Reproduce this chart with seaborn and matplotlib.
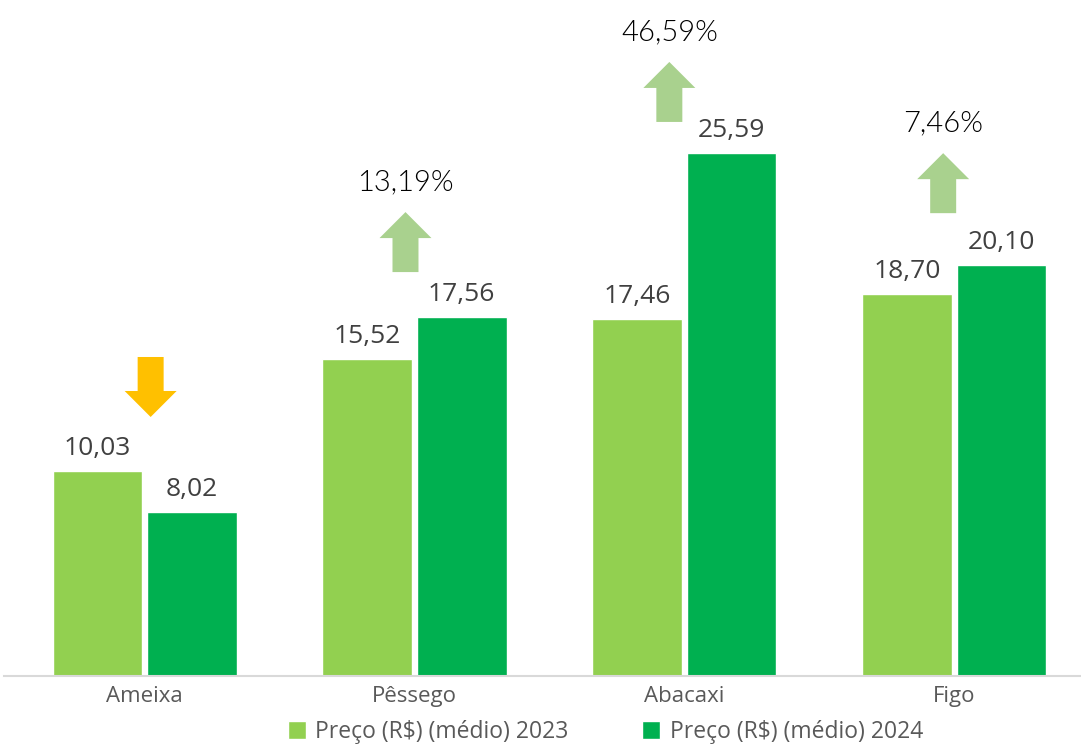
import matplotlib
matplotlib.use("Agg")
import matplotlib.pyplot as plt
from matplotlib.patches import Polygon, Patch
import seaborn as sns
import pandas as pd

# data
frutas = ["Ameixa", "Pêssego", "Abacaxi", "Figo"]
preco_2023 = [10.03, 15.52, 17.46, 18.70]
preco_2024 = [8.02, 17.56, 25.59, 20.10]
variacao = [None, "13,19%", "46,59%", "7,46%"]
series = ["Preço (R$) (médio) 2023", "Preço (R$) (médio) 2024"]

cores = ["#92D050", "#00B050"]
cor_sobe = "#A9D18E"
cor_desce = "#FFC000"

df = pd.DataFrame({
    "fruta": frutas * 2,
    "preco": preco_2023 + preco_2024,
    "serie": [series[0]] * 4 + [series[1]] * 4,
})

sns.set_theme(style="white")
plt.rcParams["font.family"] = ["Open Sans", "DejaVu Sans"]

fig = plt.figure(figsize=(10.81, 7.45), dpi=100)
ax = fig.add_axes([0.004, 69 / 745, 0.996, 676 / 745])

sns.barplot(data=df, x="fruta", y="preco", hue="serie", palette=cores,
            width=0.7, gap=0.05, saturation=1, legend=False, ax=ax)

ax.set_xlim(-0.52, 3.47)
ax.set_ylim(0, 676 / 20.44)

# value labels
for cont in ax.containers:
    for bar in cont:
        h = bar.get_height()
        ax.annotate(f"{h:.2f}".replace(".", ","),
                    (bar.get_x() + bar.get_width() / 2, h),
                    xytext=(0, 7), textcoords="offset points",
                    ha="center", va="bottom", fontsize=19, color="#404040")

# arrows (px -> data units: x 270 px/unit, y 20.44 px/unit)
px_x = 1 / 270
px_y = 1 / 20.44
arrow_len = 60 * px_y
head_len = 26 * px_y
head_w = 52 * px_x
shaft_w = 26 * px_x
arrow_dx = [6, -9, -15, -11]      # px shift from group centre
arrow_gap = [54, 45, 31, 52]      # px above tallest bar

for i, (a, b) in enumerate(zip(preco_2023, preco_2024)):
    cx = i + arrow_dx[i] * px_x
    y0 = max(a, b) + arrow_gap[i] * px_y
    y1 = y0 + arrow_len
    if b < a:
        # down arrow: tip at y0
        pts = [(cx - shaft_w / 2, y1), (cx + shaft_w / 2, y1),
               (cx + shaft_w / 2, y0 + head_len), (cx + head_w / 2, y0 + head_len),
               (cx, y0), (cx - head_w / 2, y0 + head_len),
               (cx - shaft_w / 2, y0 + head_len)]
        color = cor_desce
    else:
        pts = [(cx - shaft_w / 2, y0), (cx + shaft_w / 2, y0),
               (cx + shaft_w / 2, y1 - head_len), (cx + head_w / 2, y1 - head_len),
               (cx, y1), (cx - head_w / 2, y1 - head_len),
               (cx - shaft_w / 2, y1 - head_len)]
        color = cor_sobe
    ax.add_patch(Polygon(pts, closed=True, facecolor=color, edgecolor="none"))
    if variacao[i]:
        ax.text(cx, y1 + 30 * px_y, variacao[i], ha="center", va="center",
                fontsize=21, color="black", fontweight=300,
                family=["Lato", "DejaVu Sans"])

sns.despine(ax=ax, left=True, top=True, right=True)
ax.spines["bottom"].set_color("#D9D9D9")
ax.spines["bottom"].set_linewidth(1.5)
ax.set_yticks([])
ax.set_xlabel("")
ax.set_ylabel("")
ax.tick_params(axis="x", length=0, pad=7, labelsize=16, labelcolor="#595959")

handles = [Patch(facecolor=c, label=s) for c, s in zip(cores, series)]
fig.legend(handles=handles, loc="center", bbox_to_anchor=(0.56, 13 / 745),
           ncol=2, frameon=False, fontsize=16.5, labelcolor="#595959",
           handlelength=0.8, handleheight=0.8, handletextpad=0.4,
           columnspacing=3.2)

fig.savefig("out.png", dpi=100)
